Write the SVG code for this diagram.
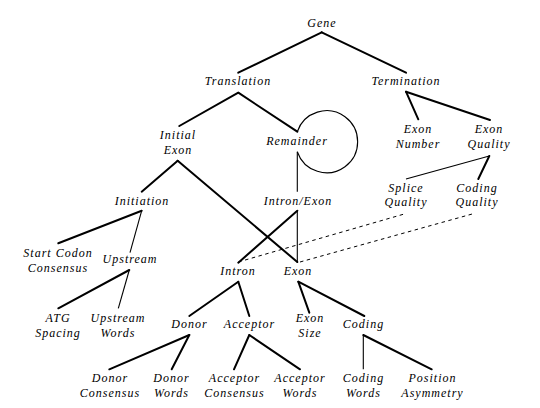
<svg xmlns="http://www.w3.org/2000/svg" width="540" height="408" viewBox="0 0 540 408">
<style>
text{font-family:"Liberation Serif","Times New Roman",serif;font-style:italic;font-size:12px;letter-spacing:1px;text-anchor:middle;fill:#000}
.k{stroke:#000;stroke-width:2;fill:none;stroke-linecap:round}
.t{stroke:#000;stroke-width:1.1;fill:none}
.d{stroke:#000;stroke-width:1;fill:none;stroke-dasharray:3.5 3.5}
</style>
<rect width="540" height="408" fill="#fff"/>
<g id="connectors">
<line class="k" x1="321.7" y1="32.3" x2="238.3" y2="72.7"/>
<line class="k" x1="321.7" y1="32.3" x2="406" y2="72.7"/>
<line class="k" x1="238.3" y1="92.7" x2="179.3" y2="126"/>
<line class="k" x1="238.3" y1="92.7" x2="297.3" y2="131.7"/>
<path class="t" d="M297.3,131.7 A31,31 0 1 1 297.3,151.7"/>
<line class="t" x1="297.3" y1="151.7" x2="297.3" y2="191.7"/>
<line class="k" x1="406" y1="91.7" x2="418.3" y2="119.3"/>
<line class="k" x1="406" y1="91.7" x2="490" y2="120"/>
<line class="t" x1="489.3" y1="156" x2="406" y2="179"/>
<line class="k" x1="489.3" y1="156" x2="478.3" y2="179"/>
<line class="k" x1="177.7" y1="160.7" x2="141.7" y2="191.7"/>
<line class="k" x1="177.7" y1="160.7" x2="297.3" y2="262"/>
<line class="k" x1="297.3" y1="210.7" x2="238.3" y2="262.7"/>
<line class="t" x1="297.3" y1="210.7" x2="297.3" y2="262.7"/>
<line class="k" x1="141.7" y1="210.7" x2="58.3" y2="243.3"/>
<line class="t" x1="141.7" y1="210.7" x2="130" y2="252.7"/>
<line class="k" x1="129.3" y1="270" x2="58.3" y2="308.3"/>
<line class="t" x1="129.3" y1="270" x2="118.3" y2="308.3"/>
<line class="k" x1="238.3" y1="281.7" x2="189.3" y2="316"/>
<line class="k" x1="238.3" y1="281.7" x2="249.3" y2="316"/>
<line class="k" x1="298.3" y1="281.7" x2="309.3" y2="312.7"/>
<line class="k" x1="298.3" y1="281.7" x2="364.3" y2="316"/>
<line class="k" x1="189.3" y1="335" x2="109.3" y2="369.3"/>
<line class="k" x1="189.3" y1="335" x2="171.7" y2="369.3"/>
<line class="k" x1="249.3" y1="335" x2="234" y2="369.3"/>
<line class="k" x1="249.3" y1="335" x2="300" y2="369.3"/>
<line class="t" x1="363.3" y1="335" x2="363.3" y2="369.3"/>
<line class="k" x1="363.3" y1="335" x2="431.7" y2="369.3"/>
<line class="d" x1="238.3" y1="262" x2="406" y2="213.5"/>
<line class="d" x1="300" y1="262" x2="474" y2="213.5"/>
</g>
<g id="gene"><text x="322" y="27">Gene</text></g>
<g id="translation"><text x="238" y="85">Translation</text></g>
<g id="termination"><text x="406" y="85">Termination</text></g>
<g id="initial-exon"><text x="178" y="139">Initial</text><text x="178" y="154">Exon</text></g>
<g id="remainder"><text x="297" y="145">Remainder</text></g>
<g id="exon-number"><text x="418" y="133">Exon</text><text x="418" y="148">Number</text></g>
<g id="exon-quality"><text x="489" y="133">Exon</text><text x="489" y="148">Quality</text></g>
<g id="splice-quality"><text x="406" y="191.5">Splice</text><text x="406" y="206">Quality</text></g>
<g id="coding-quality"><text x="477" y="191.5">Coding</text><text x="477" y="206">Quality</text></g>
<g id="initiation"><text x="142" y="204.5">Initiation</text></g>
<g id="intron-exon"><text x="298" y="204.5">Intron/Exon</text></g>
<g id="start-codon-consensus"><text x="58" y="257.3">Start Codon</text><text x="58" y="272.3">Consensus</text></g>
<g id="upstream"><text x="130" y="263.3">Upstream</text></g>
<g id="intron"><text x="238" y="275">Intron</text></g>
<g id="exon"><text x="298" y="275">Exon</text></g>
<g id="atg-spacing"><text x="58" y="321.7">ATG</text><text x="58" y="336.7">Spacing</text></g>
<g id="upstream-words"><text x="118" y="321.7">Upstream</text><text x="118" y="336.7">Words</text></g>
<g id="donor"><text x="189.5" y="327.7">Donor</text></g>
<g id="acceptor"><text x="249.5" y="327.7">Acceptor</text></g>
<g id="exon-size"><text x="310" y="322.3">Exon</text><text x="310" y="337.3">Size</text></g>
<g id="coding"><text x="363.5" y="327.7">Coding</text></g>
<g id="donor-consensus"><text x="110" y="381.7">Donor</text><text x="110" y="397">Consensus</text></g>
<g id="donor-words"><text x="171.5" y="381.7">Donor</text><text x="171.5" y="397">Words</text></g>
<g id="acceptor-consensus"><text x="234.5" y="381.7">Acceptor</text><text x="234.5" y="397">Consensus</text></g>
<g id="acceptor-words"><text x="300" y="381.7">Acceptor</text><text x="300" y="397">Words</text></g>
<g id="coding-words"><text x="363.5" y="381.7">Coding</text><text x="363.5" y="397">Words</text></g>
<g id="position-asymmetry"><text x="432.5" y="381.7">Position</text><text x="432.5" y="397">Asymmetry</text></g>
</svg>
